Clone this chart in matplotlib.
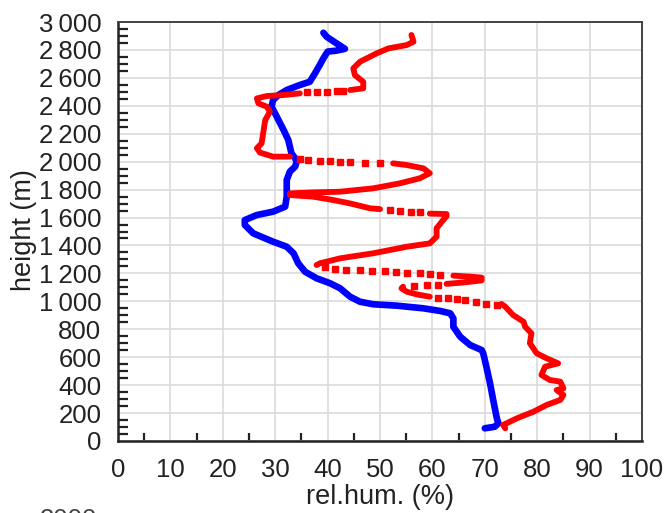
import numpy as np
import matplotlib
matplotlib.use("Agg")
import matplotlib.pyplot as plt
from matplotlib.ticker import FixedLocator, FuncFormatter

nan = np.nan

# ---- data (relative humidity %, height m) ----
blue_h = [91, 102, 127, 162, 294, 413, 532, 628, 651, 687, 747, 818, 878, 914, 931,
          950, 969, 979, 997, 1033, 1093, 1129, 1165, 1212, 1272, 1344, 1391, 1427,
          1487, 1547, 1582, 1618, 1642, 1678, 1749, 1869, 1929, 1964, 2000, 2024,
          2060, 2155, 2227, 2322, 2394, 2441, 2477, 2513, 2549, 2572, 2633, 2692,
          2740, 2788, 2795, 2808, 2847, 2895, 2923]
blue_rh = [70.0, 71.9, 72.6, 72.3, 71.6, 71.0, 70.3, 69.7, 69.4, 67.2, 65.3, 64.0, 64.0,
           63.4, 61.5, 58.3, 53.2, 48.7, 46.2, 44.3, 42.4, 40.5, 37.9, 35.7, 34.4, 33.5,
           32.2, 29.6, 25.8, 24.2, 24.2, 26.5, 29.6, 31.9, 32.2, 32.2, 32.8, 33.8, 34.1,
           33.8, 33.1, 32.5, 31.6, 30.3, 29.3, 29.6, 30.6, 32.2, 34.7, 36.6, 37.6, 38.5,
           39.2, 40.0, 41.7, 43.3, 41.7, 39.8, 39.2]

red_h = [91, 115, 162, 210, 258, 294, 329, 365, 377, 425, 437, 473, 532, 556, 592, 628,
         700, 771, 818, 854, 902, 962, 981, nan,
         1033, 1050, 1069, 1093, 1105, nan,
         1125, 1135, 1150, 1170, 1177, 1184, nan,
         1260, 1272, 1308, 1344, 1391, 1415, 1463, 1523, 1570, 1610, 1625, 1628, nan,
         1660, 1666, 1701, 1725, 1749, 1761, 1773, 1780, 1785, 1809, 1845, 1881, 1917,
         1952, 1976, 1988, nan,
         2036, 2036, 2065, 2096, 2131, 2203, 2298, 2358, 2394, 2417, 2453, 2470, 2477,
         2489, nan,
         2513, 2525, 2572, 2620, 2668, 2716, 2776, 2811, 2835, 2859, 2907]
red_rh = [73.9, 73.5, 76.1, 79.3, 81.8, 84.4, 85.0, 83.7, 85.0, 84.4, 82.4, 80.8, 81.5,
          84.0, 81.8, 79.9, 78.6, 78.9, 77.7, 77.4, 75.4, 73.9, 73.2, nan,
          59.5, 57.0, 55.1, 54.1, 54.4, nan,
          62.7, 65.9, 69.4, 69.4, 67.2, 64.0, nan,
          37.9, 38.5, 42.4, 48.7, 55.1, 59.5, 60.8, 60.8, 61.8, 62.7, 62.7, 59.5, nan,
          50.0, 48.1, 44.3, 41.1, 37.3, 32.8, 32.8, 37.3, 42.4, 48.7, 53.8, 57.6, 59.5,
          58.3, 55.1, 52.5, nan,
          32.8, 29.6, 27.1, 26.5, 27.4, 27.7, 28.1, 29.0, 28.4, 26.8, 26.5, 28.4, 31.6,
          34.7, nan,
          44.3, 46.8, 46.8, 45.2, 44.9, 46.2, 49.4, 51.6, 55.1, 56.4, 56.0]

red_dot_h = [974, 979, 997, 1009, 1016, 1021, 1026,
             1110, 1115, 1120,
             1190, 1195, 1201, 1205, 1210, 1214, 1217, 1221, 1224, 1231, 1245,
             1640, 1642, 1647, 1654,
             1990, 1992, 1995, 2000, 2002, 2007, 2012, 2017,
             2496, 2498, 2501, 2506, 2508]
red_dot_rh = [72.3, 70.3, 68.4, 66.2, 64.6, 63.0, 61.1,
              56.5, 59.0, 61.0,
              61.5, 59.5, 57.6, 55.1, 53.0, 51.0, 48.4, 46.2, 43.6, 41.4, 39.5,
              57.6, 56.0, 53.8, 51.9,
              50.0, 47.1, 44.3, 42.4, 40.5, 38.5, 36.3, 34.7,
              36.0, 37.9, 39.8, 41.7, 43.0]

x_ticks = list(range(0, 101, 10))
y_ticks = list(range(0, 3001, 200))
x_label = "rel.hum. (%)"
y_label = "height (m)"

# ---- figure ----
W, H = 665, 513
fig = plt.figure(figsize=(W / 100, H / 100), dpi=100)
L, R, T, B = 118, 642, 22, 441
ax = fig.add_axes([L / W, 1 - B / H, (R - L) / W, (B - T) / H])

fam = ['Liberation Sans', 'DejaVu Sans']
fs = 18.5
fs_lab = 19.5

ax.plot(blue_rh, blue_h, color='#0000ff', lw=4.8, solid_joinstyle='round',
        solid_capstyle='round', zorder=3)
ax.plot(red_rh, red_h, color='#ff0000', lw=4.2, solid_joinstyle='round',
        solid_capstyle='round', zorder=4)
ax.plot(red_dot_rh, red_dot_h, ls='none', marker='s', ms=3.8, color='#ff0000',
        mec='#ff0000', zorder=4)

ax.set_xlim(0, 100)
ax.set_ylim(0, 3000)

ax.xaxis.set_major_locator(FixedLocator(x_ticks))
ax.yaxis.set_major_locator(FixedLocator(y_ticks))
ax.xaxis.set_minor_locator(FixedLocator(list(range(5, 100, 10))))
ax.yaxis.set_minor_locator(FixedLocator([v for v in range(50, 3000, 50) if v % 200 != 0]))


def yfmt(v, pos):
    v = int(round(v))
    if v >= 1000:
        return f"{v // 1000}\u2009{v % 1000:03d}"
    return str(v)


ax.yaxis.set_major_formatter(FuncFormatter(yfmt))

ax.grid(True, which='major', color='#dddddd', lw=1.3, zorder=0)
ax.set_axisbelow(True)

ax.tick_params(which='major', length=0, pad=12, labelsize=fs, colors='#222222')
ax.tick_params(axis='x', which='major', pad=12)
ax.tick_params(axis='y', which='minor', direction='in', length=7.5, width=1.6,
               color='#222222', left=True)
ax.tick_params(axis='x', which='minor', direction='in', length=6, width=1.6,
               color='#222222', bottom=True)
for lab in ax.get_xticklabels() + ax.get_yticklabels():
    lab.set_family(fam)

for s in ['left', 'bottom']:
    ax.spines[s].set_color('#222222')
    ax.spines[s].set_linewidth(1.8)
for s in ['top', 'right']:
    ax.spines[s].set_color('#444444')
    ax.spines[s].set_linewidth(1.4)

fig.text(380 / W, 1 - 497 / H, x_label, ha='center', va='center', fontsize=fs_lab,
         family=fam, color='#222222')
fig.text(24 / W, 1 - 230 / H, y_label, ha='center', va='center', fontsize=fs_lab,
         family=fam, color='#222222', rotation=90)
fig.text(40 / W, 1 - 508 / H, "2000", ha='left', va='top', fontsize=fs,
         family=fam, color='#444444')

fig.savefig("out.png", dpi=100)
